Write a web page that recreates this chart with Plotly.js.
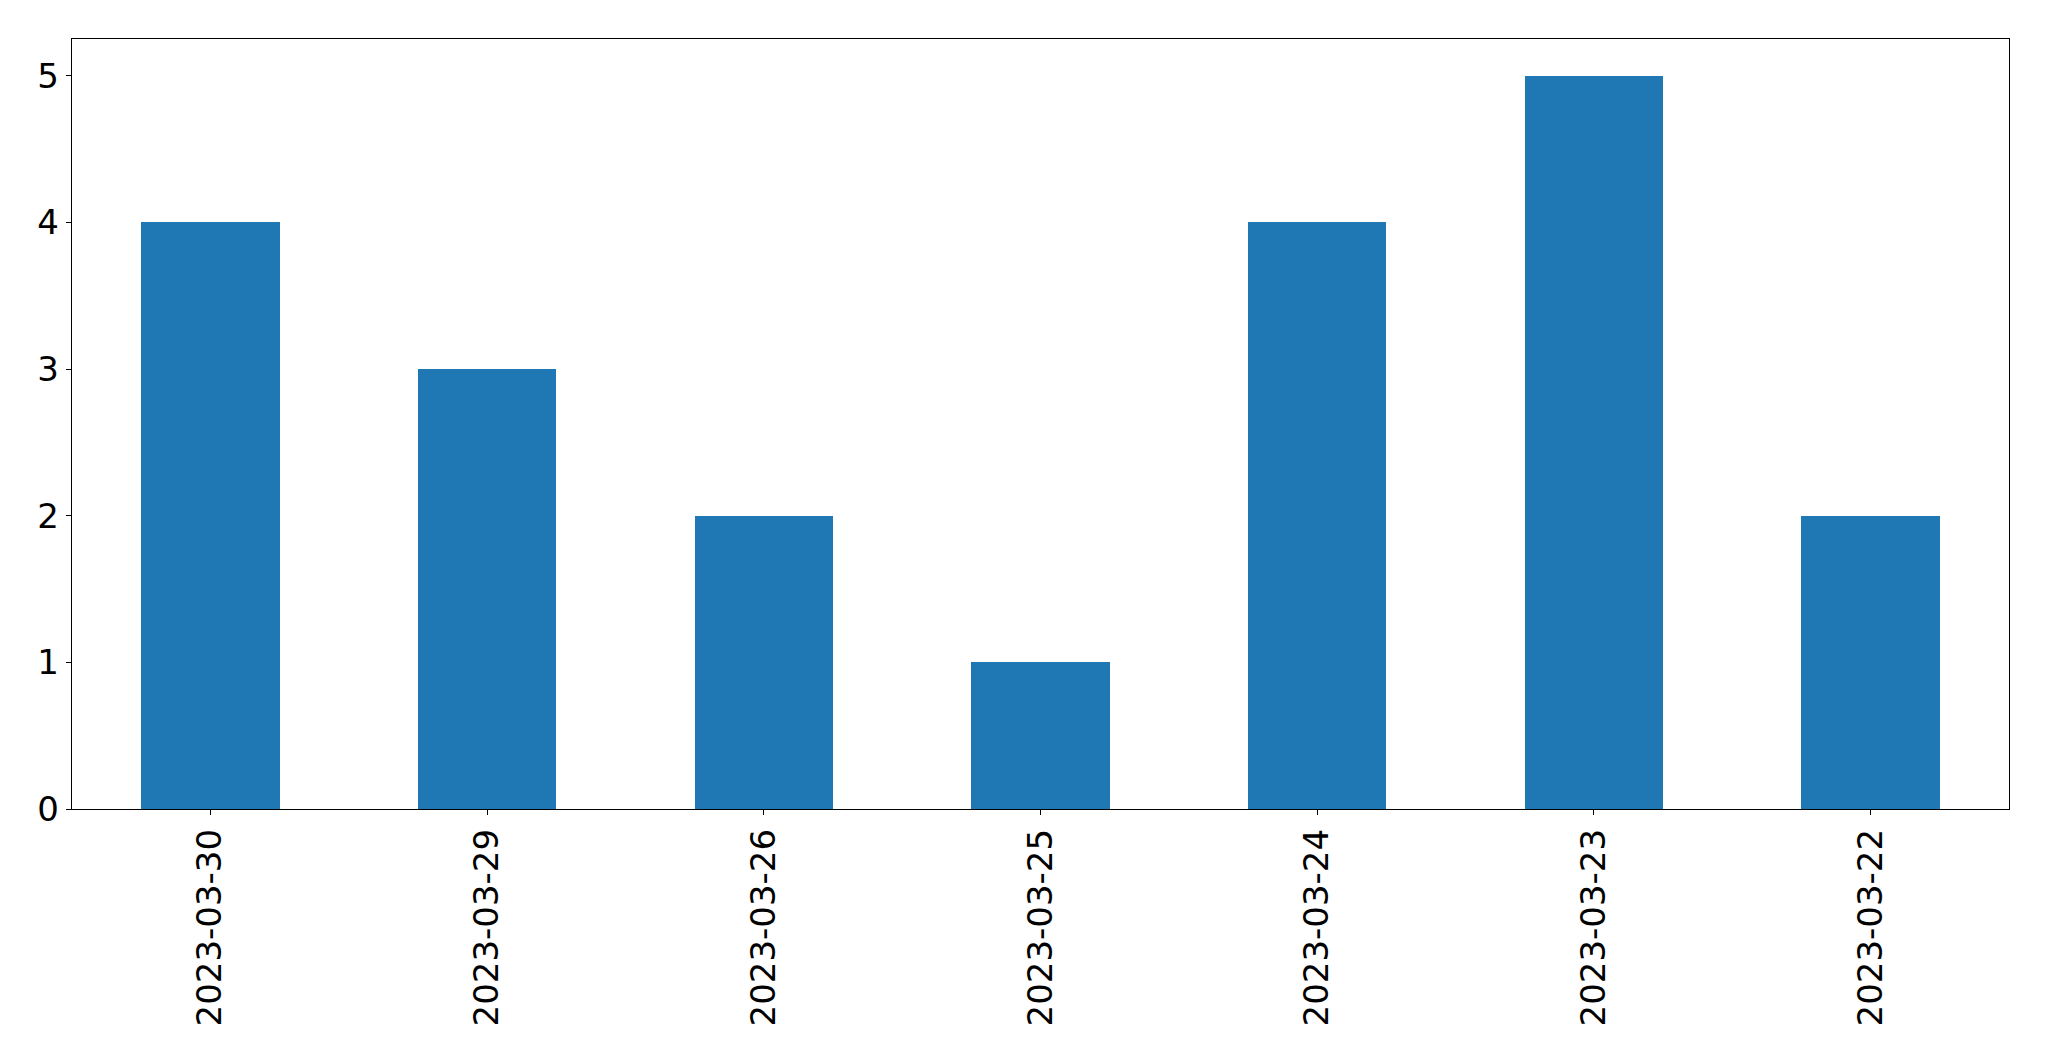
<!DOCTYPE html>
<html>
<head>
<meta charset="utf-8">
<script src="https://cdn.plot.ly/plotly-3.0.1.min.js"></script>
<style>html,body{margin:0;padding:0;background:#fff;}#chart{width:2049px;height:1061px;}</style>
</head>
<body>
<div id="chart"></div>
<script>
const dates = ["2023-03-30","2023-03-29","2023-03-26","2023-03-25","2023-03-24","2023-03-23","2023-03-22"];
const counts = [4, 3, 2, 1, 4, 5, 2];
const yTicks = [0, 1, 2, 3, 4, 5];

const trace = {
  type: "bar",
  x: dates,
  y: counts,
  width: 0.5,
  marker: {color: "#1f77b4", line: {width: 0}},
  hoverinfo: "x+y"
};

const layout = {
  width: 2049,
  height: 1061,
  margin: {l: 72, r: 40, t: 39, b: 252, pad: 0},
  paper_bgcolor: "#ffffff",
  plot_bgcolor: "#ffffff",
  showlegend: false,
  bargap: 0,
  font: {family: "DejaVu Sans", size: 34, color: "#000"},
  xaxis: {
    type: "category",
    range: [-0.5, 6.5],
    tickangle: -90,
    ticks: "outside",
    ticklen: 5,
    tickwidth: 1,
    tickcolor: "#000",
    showline: true,
    mirror: true,
    linecolor: "#000",
    linewidth: 1.3,
    showgrid: false,
    zeroline: false,
    tickfont: {family: "DejaVu Sans", size: 34, color: "#000"}
  },
  yaxis: {
    range: [0, 5.25],
    tickmode: "array",
    tickvals: yTicks,
    ticktext: yTicks.map(String),
    ticks: "outside",
    ticklen: 5,
    tickwidth: 1,
    tickcolor: "#000",
    showline: true,
    mirror: true,
    linecolor: "#000",
    linewidth: 1.3,
    showgrid: false,
    zeroline: false,
    tickfont: {family: "DejaVu Sans", size: 34, color: "#000"}
  }
};

Plotly.newPlot("chart", [trace], layout, {displayModeBar: false, staticPlot: true});
</script>
</body>
</html>
